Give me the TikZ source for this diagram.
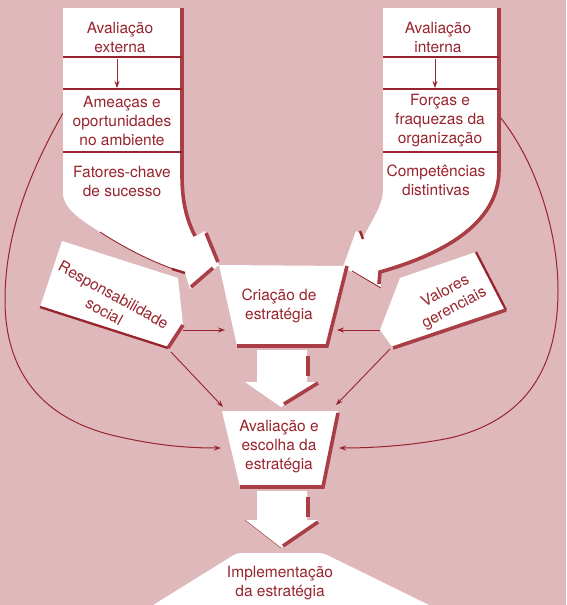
\documentclass[tikz,border=0pt]{standalone}
\usepackage{fontspec}
\setmainfont{TeX Gyre Heros}
\usetikzlibrary{arrows.meta}
\definecolor{bg}{RGB}{222,184,187}
\definecolor{ink}{RGB}{152,36,46}
\definecolor{shade}{RGB}{170,62,70}
\begin{document}
\begin{tikzpicture}[x=1pt,y=-1pt,
  lbl/.style={text=ink, font=\fontsize{15.5}{19}\selectfont, align=center, inner sep=0pt},
  shadowline/.style={draw=shade, line width=3.6pt},
  solidline/.style={draw=ink, line width=2.3pt},
  thinline/.style={draw=ink, line width=0.9pt},
  sepline/.style={draw=ink, line width=1.3pt},
  conn/.style={draw=ink, line width=0.9pt, -{Stealth[length=7pt,width=5pt]}}]

\useasboundingbox (0,0) rectangle (566,605);
\fill[bg] (0,0) rectangle (566,605);

% ---------- named end points ----------
\coordinate (arcLs) at (63,113);
\coordinate (arcLe) at (221,448);
\coordinate (arcRs) at (500,117);
\coordinate (arcRe) at (339,448);
\coordinate (resA) at (183,330);
\coordinate (criL) at (225,330);
\coordinate (resB) at (171,352);
\coordinate (avaTL) at (223,407);
\coordinate (valA) at (380,330);
\coordinate (criR) at (337,330);
\coordinate (valB) at (390,349);
\coordinate (avaTR) at (336,405);
\coordinate (extA) at (117,59);
\coordinate (extB) at (117,88);
\coordinate (intA) at (435,59);
\coordinate (intB) at (435,88);

% ---------- big curved arrows ----------
\draw[conn, line width=1pt] (arcLs) .. controls (25,180) and (5,240) .. (5,300)
   .. controls (5,370) and (40,420) .. (120,437)
   .. controls (160,446) and (190,448) .. (arcLe);
\draw[conn, line width=1pt] (arcRs) .. controls (535,160) and (558,230) .. (558,290)
   .. controls (558,370) and (525,420) .. (450,438)
   .. controls (410,446) and (370,448) .. (arcRe);

% ---------- side boxes ----------
\fill[white] (62,241) -- (178,278) -- (183,325) -- (168,348) -- (40,307) -- cycle;
\draw[solidline] (40,307) -- (168,348);
\draw[shadowline] (168,348) -- (183,325);
\fill[white] (380,330) -- (400,278) -- (476,252) -- (506,310) -- (393,348) -- cycle;
\draw[solidline] (476,252) -- (506,310);
\draw[shadowline] (506,310) -- (393,348);

% ---------- left funnel ----------
\fill[white] (63,8) -- (182,8) -- (182,175) .. controls (182,205) and (188,222) .. (196,236)
   -- (205,231) -- (219,265) -- (190,289) -- (185,273)
   .. controls (150,262) and (120,245) .. (100,232)
   .. controls (85,222) and (66,212) .. (63,195) -- cycle;
\draw[shadowline] (182,8) -- (182,175) .. controls (182,205) and (188,222) .. (195,236);
\draw[shadowline] (206,233) -- (218,262);
\draw[shadowline] (191,287) -- (213,268);
\draw[thinline] (185,273) .. controls (150,262) and (120,245) .. (100,232);
\draw[ink, line width=2.4pt] (172,269) -- (185,273);
\draw[sepline] (63,57) -- (182,57);
\draw[sepline] (63,89) -- (182,89);
\draw[sepline] (63,152) -- (182,152);

% ---------- right funnel ----------
\fill[white] (383,8) -- (499,8) -- (499,170) .. controls (499,225) and (440,255) .. (380,272)
   -- (381,288) -- (343,267) -- (356,231) -- (364,236)
   .. controls (372,220) and (383,205) .. (383,190) -- cycle;
\draw[shadowline] (499,8) -- (499,170) .. controls (499,225) and (440,255) .. (380,272) -- (379,284);
\draw[thinline] (381,288) -- (352,271);
\draw[ink, line width=2.4pt] (360,231) -- (363,239);
\draw[sepline] (383,57) -- (499,57);
\draw[sepline] (383,89) -- (499,89);
\draw[sepline] (383,152) -- (499,152);

% ---------- centre column ----------
\fill[white] (219,265) -- (347,266) -- (327,346) -- (237,346) -- cycle;
\draw[shadowline] (347,266) -- (327,346) -- (237,346);

\fill[white] (257,350) -- (307,350) -- (307,382) -- (318,382) -- (281,407) -- (245,382) -- (257,382) -- cycle;
\draw[shadowline] (308,356) -- (308,376);
\draw[shadowline] (318,383) -- (284,404);

\fill[white] (222,411) -- (338,411) -- (323,487) -- (240,487) -- cycle;
\draw[shadowline] (338,413) -- (323,487) -- (240,487);

\fill[white] (257,491) -- (307,491) -- (307,520) -- (318,520) -- (281,548) -- (245,520) -- (257,520) -- cycle;
\draw[shadowline] (308,497) -- (308,517);
\draw[shadowline] (318,522) -- (283,546);
\draw[ink, line width=0.4pt] (245,520) -- (281,548);

\fill[white, rounded corners=4pt] (150,607) -- (237,553) -- (323,553) -- (433,607) -- cycle;

% ---------- connectors ----------
\draw[conn] (extA) -- (extB);
\draw[conn] (intA) -- (intB);
\draw[conn] (resA) -- (criL);
\draw[conn] (resB) -- (avaTL);
\draw[conn] (valA) -- (criR);
\draw[conn] (valB) -- (avaTR);

% ---------- labels ----------
\node[lbl] (tExt) at (120,37) {Avaliação\\externa};
\node[lbl] (tAme) at (122,121) {Ameaças e\\oportunidades\\no ambiente};
\node[lbl] (tFat) at (122,181) {Fatores-chave\\de sucesso};
\node[lbl] (tInt) at (438,37) {Avaliação\\interna};
\node[lbl] (tFor) at (440,121) {Forças e\\fraquezas da\\organização};
\node[lbl] (tCom) at (436,180) {Competências\\distintivas};
\node[lbl] (tCri) at (279,306) {Criação de\\estratégia};
\node[lbl] (tAva) at (279,447) {Avaliação e\\escolha da\\estratégia};
\node[lbl] (tImp) at (280,583) {Implementação\\da estratégia};
\node[lbl, rotate=-29] (tRes) at (109,303) {Responsabilidade\\social};
\node[lbl, rotate=28] (tVal) at (450,300) {Valores\\gerenciais};
\end{tikzpicture}
\end{document}
